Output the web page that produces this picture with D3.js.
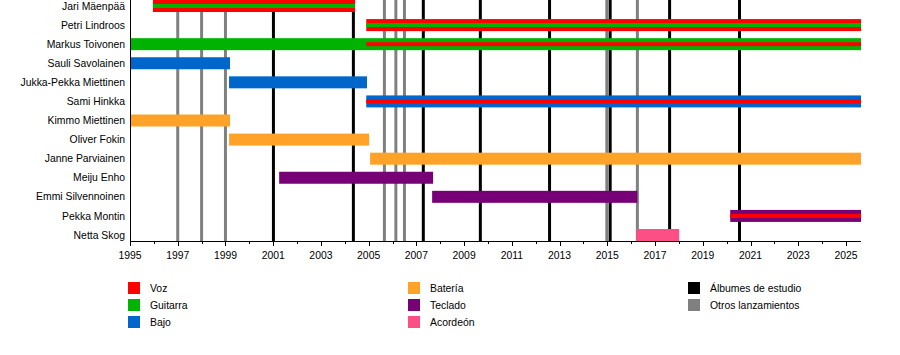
<!DOCTYPE html>
<html>
<head>
<meta charset="utf-8">
<script src="https://cdn.jsdelivr.net/npm/d3@7"></script>
<style>
  html, body { margin: 0; padding: 0; background: #fff; }
  svg { display: block; }
  text { font-family: "Liberation Sans", Arial, sans-serif; font-size: 10.4px; fill: #000; }
</style>
</head>
<body>
<svg id="chart" width="900" height="355"></svg>
<script>
// ---- data ----
const members = ["Jari Mäenpää", "Petri Lindroos", "Markus Toivonen", "Sauli Savolainen",
  "Jukka-Pekka Miettinen", "Sami Hinkka", "Kimmo Miettinen", "Oliver Fokin",
  "Janne Parviainen", "Meiju Enho", "Emmi Silvennoinen", "Pekka Montin", "Netta Skog"];
const barStart = [1995.96, 2004.9, 1995.0, 1995.0, 1999.15, 2004.9, 1995.0, 1999.15, 2005.06, 2001.25, 2007.66, 2020.15, 2016.21];
const barEnd   = [2004.43, 2025.63, 2025.63, 1999.19, 2004.93, 2025.63, 1999.19, 2005.02, 2025.63, 2007.7, 2016.26, 2025.63, 2018.01];
const barRole  = ["Voz", "Voz", "Guitarra", "Bajo", "Bajo", "Bajo", "Batería", "Batería", "Batería", "Teclado", "Teclado", "Teclado", "Acordeón"];
// secondary role stripes
const stripeMember = ["Jari Mäenpää", "Petri Lindroos", "Markus Toivonen", "Sami Hinkka", "Pekka Montin"];
const stripeStart  = [1995.96, 2004.9, 2004.9, 2004.9, 2020.15];
const stripeEnd    = [2004.43, 2025.63, 2025.63, 2025.63, 2025.63];
const stripeRole   = ["Guitarra", "Guitarra", "Voz", "Voz", "Voz"];

const studioAlbums = [2001.01, 2004.36, 2007.29, 2009.68, 2012.58, 2015.12, 2017.61, 2020.54];
const otherReleases = [1997.0, 1998.0, 1999.0, 2005.66, 2006.14, 2006.5, 2014.98, 2016.26];

const tickYears = d3.range(1995, 2026, 2);
const minorYears = d3.range(1995, 2026, 1);

const roles = ["Voz", "Guitarra", "Bajo", "Batería", "Teclado", "Acordeón"];
const lineTypes = ["Álbumes de estudio", "Otros lanzamientos"];

// ---- styles ----
const roleColor = {
  "Voz": "#ff0000", "Guitarra": "#00b300", "Bajo": "#0066cc",
  "Batería": "#ffa328", "Teclado": "#780077", "Acordeón": "#fc4f86"
};
const lineColor = { "Álbumes de estudio": "#000000", "Otros lanzamientos": "#808080" };

// ---- chart ----
const svg = d3.select("#chart");
const x = d3.scaleLinear().domain([1995, 2025.63]).range([130, 861]);
const y = d3.scalePoint().domain(members).range([6, 235]);
const axisY = 241;
const barH = 12, stripeH = 4;

// release lines
const lines = svg.append("g");
lines.selectAll("line.other").data(otherReleases).join("line")
  .attr("x1", d => x(d)).attr("x2", d => x(d))
  .attr("y1", 0).attr("y2", axisY)
  .attr("stroke", lineColor["Otros lanzamientos"]).attr("stroke-width", 3);
lines.selectAll("line.album").data(studioAlbums).join("line")
  .attr("x1", d => x(d)).attr("x2", d => x(d))
  .attr("y1", 0).attr("y2", axisY)
  .attr("stroke", lineColor["Álbumes de estudio"]).attr("stroke-width", 3);

// bars
const bars = svg.append("g");
bars.selectAll("rect").data(members).join("rect")
  .attr("x", (d, i) => x(barStart[i]))
  .attr("width", (d, i) => x(barEnd[i]) - x(barStart[i]))
  .attr("y", d => y(d) - barH / 2)
  .attr("height", barH)
  .attr("fill", (d, i) => roleColor[barRole[i]]);

const stripes = svg.append("g");
stripes.selectAll("rect").data(stripeMember).join("rect")
  .attr("x", (d, i) => x(stripeStart[i]))
  .attr("width", (d, i) => x(stripeEnd[i]) - x(stripeStart[i]))
  .attr("y", d => y(d) - stripeH / 2)
  .attr("height", stripeH)
  .attr("fill", (d, i) => roleColor[stripeRole[i]]);

// names
svg.append("g").selectAll("text").data(members).join("text")
  .attr("x", 125).attr("y", d => y(d))
  .attr("dy", "0.35em")
  .attr("text-anchor", "end")
  .text(d => d);

// left axis line
svg.append("line").attr("x1", 130.5).attr("x2", 130.5).attr("y1", 0).attr("y2", axisY)
  .attr("stroke", "#000").attr("stroke-width", 1);

// bottom axis
const axis = svg.append("g").attr("transform", `translate(0,${axisY})`);
axis.append("line").attr("x1", 130).attr("x2", 861).attr("y1", 0.5).attr("y2", 0.5)
  .attr("stroke", "#000").attr("stroke-width", 1);
axis.selectAll("line.minor").data(minorYears.filter(v => v % 2 === 0)).join("line")
  .attr("class", "minor")
  .attr("x1", d => Math.round(x(d)) + 0.5).attr("x2", d => Math.round(x(d)) + 0.5)
  .attr("y1", 0).attr("y2", 3)
  .attr("stroke", "#000");
axis.selectAll("line.major").data(tickYears).join("line")
  .attr("class", "major")
  .attr("x1", d => Math.round(x(d)) + 0.5).attr("x2", d => Math.round(x(d)) + 0.5)
  .attr("y1", 0).attr("y2", 5)
  .attr("stroke", "#000");
axis.selectAll("text").data(tickYears).join("text")
  .attr("x", d => x(d)).attr("y", 14).attr("dy", "0.35em")
  .attr("text-anchor", "middle")
  .text(d => d);

// legend
const legendItems = roles.map(r => ({ label: r, color: roleColor[r] }))
  .concat(lineTypes.map(t => ({ label: t, color: lineColor[t] })));
const colX = [128, 408, 688];
const legendCol = [0, 0, 0, 1, 1, 1, 2, 2];
const legendRow = [0, 1, 2, 0, 1, 2, 0, 1];
const legend = svg.append("g");
const li = legend.selectAll("g").data(legendItems).join("g")
  .attr("transform", (d, i) => `translate(${colX[legendCol[i]]},${282 + legendRow[i] * 17})`);
li.append("rect").attr("width", 12).attr("height", 12).attr("fill", d => d.color);
li.append("text").attr("x", 22).attr("y", 6).attr("dy", "0.35em").text(d => d.label);
</script>
</body>
</html>
